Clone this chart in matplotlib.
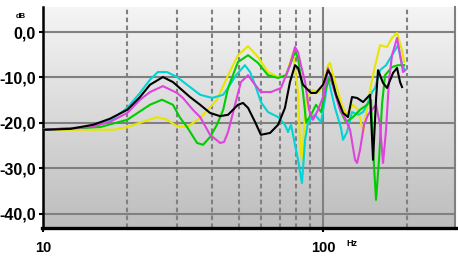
import numpy as np
import matplotlib
matplotlib.use('Agg')
import matplotlib.pyplot as plt
from matplotlib.colors import LinearSegmentedColormap
from matplotlib.lines import Line2D

# Frequency response curves (Hz, dB)
yellow_hz = [10.0, 13.9, 17.8, 20.0, 23.1, 25.5, 27.7, 30.1, 32.7, 36.4, 41.8, 45.8, 49.7, 54.0,
             58.6, 63.6, 69.1, 73.8, 78.1, 81.4, 82.8, 84.1, 85.5, 87.0, 92.1, 96.0, 100.0, 104.2,
             105.9, 110.4, 115.9, 120.8, 128.0, 133.4, 139.0, 142.4, 147.2, 152.1, 159.8, 169.3,
             176.4, 183.8, 191.5, 194.7]
yellow_db = [-21.5, -21.5, -21.5, -20.9, -19.6, -18.7, -19.3, -20.7, -20.9, -18.9, -14.9, -9.5, -5.1, -3.1,
             -5.5, -8.8, -9.9, -9.5, -4.6, -13.2, -24.8, -28.1, -21.5, -14.5, -12.7, -13.4, -11.6, -7.3,
             -6.8, -11.0, -15.4, -18.2, -16.0, -17.1, -22.2, -18.2, -12.7, -8.4, -2.9, -3.3,
             -1.3, -0.2, -4.0, -6.6]

green_hz = [10.0, 16.0, 20.0, 24.1, 26.6, 29.1, 30.9, 32.7, 35.5, 37.3, 39.5, 41.8, 44.0, 45.8,
            49.7, 54.0, 58.6, 63.6, 69.1, 73.8, 79.4, 81.4, 84.8, 87.0, 90.6, 94.4, 98.4, 102.5,
            105.9, 110.4, 115.9, 120.8, 128.0, 135.6, 143.6, 148.4, 150.9, 154.6, 158.5, 162.4,
            166.5, 176.4, 185.3, 194.7]
green_db = [-21.5, -20.9, -19.3, -16.0, -14.9, -16.0, -18.9, -20.9, -24.4, -24.8, -23.1, -20.4, -17.1, -12.3,
            -6.6, -5.1, -6.8, -9.5, -10.1, -9.5, -4.4, -5.7, -13.2, -19.8, -18.2, -16.0, -17.6, -12.3,
            -9.9, -13.2, -17.6, -19.8, -18.7, -17.1, -16.0, -14.9, -25.9, -36.9, -28.1, -16.0,
            -9.5, -7.7, -7.3, -7.3]

magenta_hz = [10.0, 14.7, 17.3, 20.0, 22.2, 24.1, 26.8, 30.1, 31.6, 34.3, 36.4, 39.5, 42.9, 44.3,
              45.8, 48.5, 50.9, 54.0, 56.2, 60.0, 65.2, 70.8, 76.2, 79.4, 81.4, 83.4, 86.3, 89.1,
              92.1, 96.0, 100.8, 104.2, 109.5, 115.0, 119.8, 124.9, 130.1, 132.3, 135.6, 140.1,
              144.8, 149.6, 154.6, 159.8, 163.8, 167.9, 172.1, 176.4, 183.8, 189.9, 193.1, 196.3]
magenta_db = [-21.5, -20.9, -19.8, -17.8, -14.9, -13.2, -11.9, -13.4, -14.5, -17.1, -18.7, -22.6, -24.4, -24.2,
              -22.0, -16.0, -11.0, -9.5, -11.0, -13.2, -13.2, -12.3, -7.3, -3.3, -4.4, -7.3, -11.0, -17.1,
              -19.3, -17.1, -13.8, -7.9, -12.7, -17.1, -18.9, -21.5, -28.1, -28.8, -25.9, -20.4,
              -18.2, -17.1, -16.0, -20.4, -28.8, -21.5, -10.5, -5.1, -1.3, -6.2, -8.8, -8.4]

cyan_hz = [10.0, 14.7, 17.3, 20.0, 22.2, 24.1, 25.7, 27.7, 30.1, 33.5, 36.4, 40.2, 44.0, 45.8,
           48.9, 52.6, 54.9, 57.2, 60.0, 63.6, 69.1, 73.1, 75.0, 76.9, 79.4, 81.4, 84.1, 86.3,
           88.4, 93.6, 98.4, 101.6, 104.2, 110.4, 115.9, 117.9, 121.8, 126.9, 133.4, 139.0,
           143.6, 149.6, 153.4, 159.8, 167.9, 176.4, 185.3, 191.5, 196.3]
cyan_db = [-21.5, -20.9, -19.6, -16.7, -13.4, -10.5, -8.8, -8.8, -9.9, -12.1, -13.8, -14.5, -13.8, -12.3,
           -9.5, -7.3, -8.8, -11.6, -15.4, -17.6, -18.7, -20.4, -22.0, -20.4, -24.8, -28.1, -33.2, -23.7,
           -19.8, -18.2, -19.8, -14.9, -10.1, -16.7, -21.1, -23.7, -22.0, -17.6, -18.2, -17.6,
           -16.0, -13.2, -12.3, -8.4, -7.3, -5.1, -2.9, -7.3, -8.4]

black_hz = [10.0, 12.5, 15.1, 17.3, 20.0, 22.2, 24.1, 26.8, 29.1, 33.5, 36.4, 39.5, 42.9, 45.8,
            49.7, 51.8, 54.0, 57.2, 60.0, 64.7, 69.1, 73.1, 76.2, 79.4, 81.4, 84.8, 90.6, 94.4,
            100.0, 104.2, 106.8, 111.3, 117.9, 122.8, 126.9, 132.3, 139.0, 147.2, 150.9, 154.6,
            157.2, 163.8, 169.3, 177.8, 183.8, 188.4, 191.5]
black_db = [-21.5, -21.3, -20.4, -19.1, -17.1, -14.3, -11.6, -9.9, -11.0, -14.3, -16.0, -17.8, -18.5, -18.2,
            -16.0, -15.6, -16.7, -19.8, -22.6, -22.2, -20.4, -16.7, -11.0, -7.3, -7.9, -11.6, -13.4, -13.4,
            -11.6, -8.4, -9.5, -13.8, -17.8, -18.7, -14.3, -14.5, -15.4, -13.8, -28.1, -14.9,
            -8.4, -11.2, -12.3, -9.0, -7.9, -11.0, -12.1]

y_ticks = [0, -10, -20, -30, -40]
y_labels = ['0,0', '-10,0', '-20,0', '-30,0', '-40,0']
x_ticks = [10, 100]
x_labels = ['10', '100']
dashed_hz = [20, 30, 40, 50, 60, 70, 80, 90, 200]

plt.rcParams['font.family'] = ['Liberation Sans', 'DejaVu Sans']

fig = plt.figure(figsize=(4.58, 2.62), dpi=100)
ax = fig.add_axes([43/458, 34/262, 412/458, 221/262])

# grey gradient background
bg = LinearSegmentedColormap.from_list('bg', ['#bdbdbd', '#f5f5f5'])
ax.imshow(np.linspace(0, 1, 256).reshape(-1, 1), cmap=bg, extent=[0, 1, 0, 1],
          transform=ax.transAxes, aspect='auto', origin='lower', zorder=0)

ax.set_xscale('log')
ax.set_xlim(10, 296)
ax.set_ylim(-43.1, 5.5)

for y in y_ticks:
    ax.axhline(y, color='#808080', lw=1.5, zorder=1)
for f in dashed_hz:
    ax.axvline(f, color='#808080', lw=1.5, ls=(0, (2.2, 1.6)), zorder=1)
ax.axvline(100, color='#808080', lw=1.5, zorder=1)

lw = 1.5
style = dict(lw=lw, solid_joinstyle='round', zorder=3)
ax.plot(yellow_hz, yellow_db, color='#e6e600', **style)
ax.plot(cyan_hz, cyan_db, color='#00d4d4', **style)
ax.plot(green_hz, green_db, color='#00cc00', **style)
ax.plot(magenta_hz, magenta_db, color='#dd44dd', **style)
ax.plot(black_hz, black_db, color='black', lw=lw, solid_joinstyle='round', zorder=4)

ax.set_yticks(y_ticks)
ax.set_yticklabels(y_labels, fontsize=11.5, fontweight='bold')
ax.set_xticks(x_ticks)
ax.set_xticklabels(x_labels, fontsize=10.5, fontweight='bold')
ax.minorticks_off()
ax.tick_params(axis='y', length=3, width=1.5, pad=2)
ax.tick_params(axis='x', length=3, width=1.5, pad=6)

ax.spines['top'].set_visible(False)
ax.spines['right'].set_color('#808080')
ax.spines['right'].set_linewidth(1.5)
ax.spines['left'].set_linewidth(1.8)
ax.spines['bottom'].set_visible(False)

# thick baseline running to the right edge of the picture
fig.add_artist(Line2D([42/458, 458/458], [34/262, 34/262], color='black', lw=2.4,
                      transform=fig.transFigure))

fig.text(16/458, 1 - 16/262, 'dB', fontsize=5.5, fontweight='bold', va='center')
fig.text(346/458, 1 - 243/262, 'Hz', fontsize=6.5, fontweight='bold', va='center')

fig.savefig('out.png', dpi=100)
